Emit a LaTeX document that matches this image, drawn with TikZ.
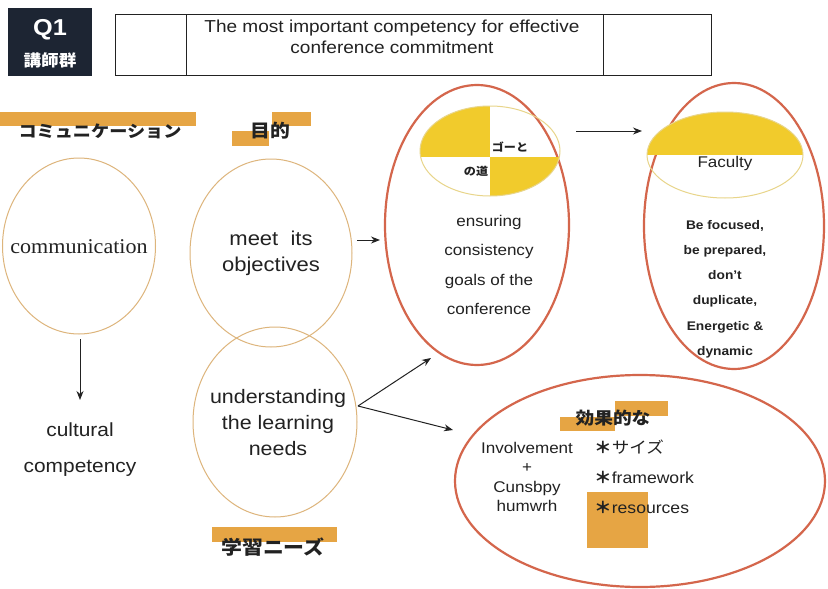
\documentclass[tikz,border=0pt]{standalone}
\usepackage{fontspec}
\setmainfont{Liberation Sans}[FakeStretch=1.1]
\newfontfamily\cjk{Noto Sans CJK JP}[FakeStretch=1.1]
\newfontfamily\timesfont{Liberation Serif}[FakeStretch=1.05]
\usetikzlibrary{arrows.meta,shapes.geometric}

\definecolor{tan}{HTML}{DDB57C}
\definecolor{rust}{HTML}{D4664C}
\definecolor{gold}{HTML}{F1CB2C}
\definecolor{paleline}{HTML}{E8D58A}
\definecolor{barorange}{HTML}{E6A544}
\definecolor{navy}{HTML}{1D2533}
\definecolor{ink}{HTML}{222222}

\newcommand{\bullstar}{{\cjk\bfseries ＊}}

\begin{document}
\begin{tikzpicture}[x=1pt,y=-1pt,
  thin ring/.style={draw=tan, line width=1pt, ellipse, inner sep=0pt},
  bold ring/.style={draw=rust, line width=2.2pt, ellipse, inner sep=0pt},
  lbl/.style={text=ink, align=center, inner sep=0pt},
  jp/.style={text=ink, font=\cjk\fontsize{16.5}{18}\selectfont\bfseries, inner sep=0pt},
  bar/.style={fill=barorange, draw=none},
  conn/.style={draw=ink, line width=1pt, -{Stealth[length=9pt,width=7pt]}}
]
\useasboundingbox (0,0) rectangle (828,589);
\fill[white] (0,0) rectangle (828,589);

% header: question badge and title box
\fill[navy] (8,8) rectangle (92,76);
\node[text=white, font=\fontsize{23}{24}\selectfont\bfseries, inner sep=0pt] (q1) at (50,30) {Q1};
\node[text=white, font=\cjk\fontsize{16}{17}\selectfont\bfseries, inner sep=0pt] (lect) at (50,60) {講師群};
\draw[ink, line width=0.9pt] (115,14) rectangle (711,75);
\draw[ink, line width=0.9pt] (186,14) -- (186,75) (603,14) -- (603,75);
\node[lbl, font=\fontsize{17.3}{21}\selectfont] (title) at (392,37)
  {The most important competency for effective\\conference commitment};

% orange highlight bars behind the Japanese labels
\fill[bar] (0,112) rectangle (196,126);
\fill[bar] (232,131) rectangle (269,146);
\fill[bar] (272,112) rectangle (311,126);
\fill[bar] (212,527) rectangle (337,542);
\fill[bar] (560,417) rectangle (615,431);
\fill[bar] (615,401) rectangle (668,416);
\fill[bar] (587,492) rectangle (648,548);

\node[jp] (jcomm) at (100,131) {コミュニケーション};
\node[jp, font=\cjk\fontsize{18}{20}\selectfont\bfseries] (jobj) at (270,131) {目的};
\node[jp, font=\cjk\fontsize{19}{20}\selectfont\bfseries] (jneeds) at (273,547) {学習ニーズ};
\node[jp, font=\cjk\fontsize{17}{20}\selectfont\bfseries] (jeff) at (613,418) {効果的な};

% left column
\node[thin ring, minimum width=153pt, minimum height=176pt] (comm) at (79,246) {};
\node[text=ink, font=\timesfont\fontsize{21}{22}\selectfont, inner sep=0pt] (commtxt) at (79,247) {communication};
\coordinate (commdown) at (80,339);
\coordinate (cultin) at (80,400);
\node[lbl, font=\fontsize{19}{36}\selectfont] (cult) at (80,450) {cultural\\competency};
\draw[conn] (commdown) -- (cultin);

% middle column
\node[thin ring, minimum width=162pt, minimum height=188pt] (meet) at (271,253) {};
\node[lbl, font=\fontsize{20}{26}\selectfont] (meettxt) at (271,253) {meet\ \ its\\objectives};
\node[thin ring, minimum width=164pt, minimum height=190pt] (under) at (275,422) {};
\node[lbl, font=\fontsize{19.5}{26}\selectfont] (undertxt) at (278,423) {understanding\\the learning\\needs};

% ensuring consistency
\node[bold ring, minimum width=184pt, minimum height=280pt] (ens) at (477,225) {};
\begin{scope}
  \clip (490,151) ellipse [x radius=70, y radius=45];
  \fill[gold] (420,106) rectangle (490,157);
  \fill[gold] (490,157) rectangle (560,196);
\end{scope}
\node[draw=paleline, line width=1pt, ellipse, minimum width=140pt, minimum height=90pt] (goal) at (490,151) {};
\node[text=ink, font=\cjk\fontsize{11}{12}\selectfont\bfseries, inner sep=0pt] (goaltop) at (510,147) {ゴーと};
\node[text=ink, font=\cjk\fontsize{11}{12}\selectfont\bfseries, inner sep=0pt] (goalbot) at (476,171) {の道};
\node[lbl, font=\fontsize{15.5}{29.5}\selectfont] (enstxt) at (489,265)
  {ensuring\\consistency\\goals of the\\conference};

% faculty
\node[bold ring, minimum width=180pt, minimum height=286pt] (fac) at (734,226) {};
\begin{scope}
  \clip (725,155) ellipse [x radius=78, y radius=43];
  \fill[gold] (647,112) rectangle (803,155);
\end{scope}
\node[draw=paleline, line width=1pt, ellipse, minimum width=156pt, minimum height=86pt] (facin) at (725,155) {};
\node[lbl, font=\fontsize{15.5}{18}\selectfont] (factxt) at (725,163) {Faculty};
\node[lbl, font=\fontsize{12.5}{25.2}\selectfont\bfseries] (factext) at (725,289)
  {Be focused,\\be prepared,\\don't\\duplicate,\\Energetic \&\\dynamic};

% effective conference
\node[bold ring, minimum width=370pt, minimum height=212pt] (eff) at (640,481) {};
\node[lbl, font=\fontsize{15.5}{19.5}\selectfont] (inv) at (527,477)
  {Involvement\\+\\Cunsbpy\\humwrh};
\node[lbl, font=\fontsize{16}{30}\selectfont, align=left, anchor=west] (list) at (594,477)
  {\bullstar{\cjk サイズ}\\\bullstar framework\\\bullstar resources};

% connectors
\coordinate (meetout) at (357,240);
\coordinate (ensin) at (380,240);
\draw[conn] (meetout) -- (ensin);
\coordinate (ensout) at (576,131);
\coordinate (facin2) at (642,131);
\draw[conn] (ensout) -- (facin2);
\coordinate (underout) at (358,406);
\coordinate (upend) at (431,358);
\coordinate (downend) at (453,430);
\draw[conn] (underout) -- (upend);
\draw[conn] (underout) -- (downend);
\end{tikzpicture}
\end{document}
